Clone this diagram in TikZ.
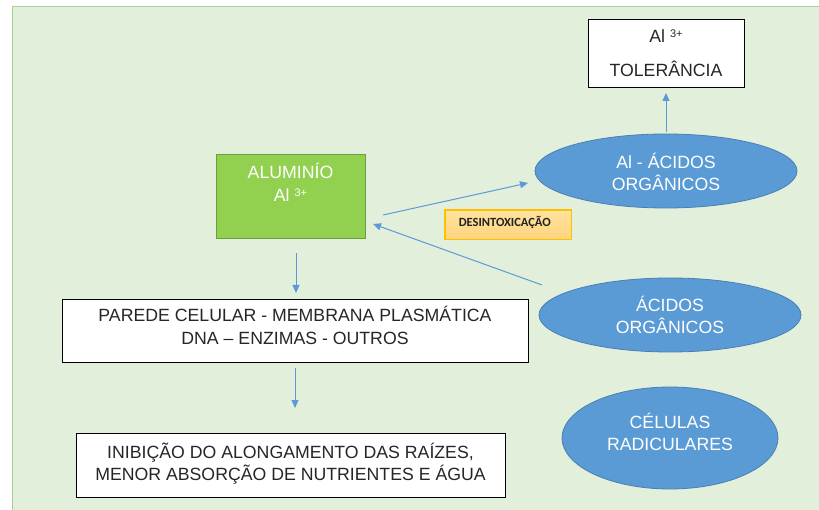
\documentclass[tikz,border=0pt]{standalone}
\usepackage{fontspec}
\setmainfont{Liberation Sans}
\newfontfamily\calibfont{Carlito}
\usetikzlibrary{arrows.meta,shapes.geometric}
\definecolor{bgfill}{HTML}{E2EFDA}
\definecolor{bgline}{HTML}{A9D08E}
\definecolor{algreen}{HTML}{92D050}
\definecolor{algreenline}{HTML}{6A9F3F}
\definecolor{elfill}{HTML}{5B9BD5}
\definecolor{elline}{HTML}{4A7FB5}
\definecolor{arrcol}{HTML}{5B9BD5}
\definecolor{destop}{HTML}{FFE3A0}
\definecolor{desbot}{HTML}{FFD47C}
\definecolor{desline}{HTML}{FFC000}
\definecolor{destext}{HTML}{222222}
\newcommand\ts[2]{\rule[-#2pt]{0pt}{\dimexpr#1pt+#2pt\relax}}
\newcommand\supthree{\raisebox{5pt}{\fontsize{11}{11}\selectfont 3+}}
\begin{document}
\begin{tikzpicture}[x=1pt,y=-1pt,
  every node/.style={font=\fontsize{17.7}{22}\selectfont, inner sep=0pt, outer sep=0pt},
  wbox/.style={rectangle, draw=black, fill=white, line width=0.9pt, align=center, text=black!85},
  gbox/.style={rectangle, draw=algreenline, fill=algreen, line width=1pt, align=center, text=white},
  ell/.style={ellipse, draw=elline, fill=elfill, line width=0.8pt, text=white, align=center},
  dbox/.style={rectangle, draw=desline, top color=destop, bottom color=desbot, line width=1.2pt,
    font=\calibfont\bfseries\fontsize{12.5}{14}\selectfont, text=destext},
  conn/.style={draw=arrcol, line width=1pt, -{Triangle[length=8pt,width=7pt]}}]
\useasboundingbox (0,0) rectangle (819,510);
\draw[bgline, fill=bgfill, line width=1.3pt] (12.7,6.5) rectangle (830,520);

\node[wbox, minimum width=156, minimum height=68] (tol) at (666,53)
  {\ts{17.5}{4.5}Al \supthree\\[12.5pt]\ts{17.5}{4.5}TOLERÂNCIA};
\node[ell, minimum width=262, minimum height=74] (aac) at (666,171)
  {\ts{22.5}{4.5}Al - ÁCIDOS\\\ts{17.5}{4.5}ORGÂNICOS};
\node[gbox, minimum width=149, minimum height=84] (alu) at (290.5,197)
  {\ts{17.5}{4.5}ALUMINÍO\\[1pt]\ts{17.5}{30.5}Al \supthree};
\node[dbox, minimum width=126.7, minimum height=29.3] (des) at (508.3,224.7)
  {\ts{10}{6.4}DESINTOXICAÇÃO\kern7pt};
\node[ell, minimum width=262, minimum height=74] (ao) at (670,315)
  {\ts{20}{4.5}ÁCIDOS\\\ts{17.5}{4.5}ORGÂNICOS};
\node[wbox, minimum width=466, minimum height=62.7] (par) at (295,331.3)
  {\ts{17.5}{4.5}PAREDE CELULAR - MEMBRANA PLASMÁTICA\\[0.5pt]\ts{17.5}{13.6}DNA – ENZIMAS - OUTROS};
\node[wbox, minimum width=429, minimum height=64] (ini) at (290.5,465)
  {\ts{17.5}{4.5}INIBIÇÃO DO ALONGAMENTO DAS RAÍZES,\\\ts{17.5}{9.2}MENOR ABSORÇÃO DE NUTRIENTES E ÁGUA};
\node[ell, minimum width=216, minimum height=102] (cel) at (670,438)
  {\ts{17.5}{4.5}CÉLULAS\\\ts{17.5}{14.5}RADICULARES};

\coordinate (a2s) at (383,215);
\coordinate (a2e) at (528,183);
\coordinate (a3s) at (542,285);
\coordinate (a3e) at (373,224);
\coordinate (a4s) at (296,253);
\coordinate (a4e) at (296,293);
\coordinate (a5s) at (295,368);
\coordinate (a5e) at (295,408);

\draw[conn, shorten <=2pt, shorten >=6pt] (aac.north) -- (tol.south);
\draw[conn] (a2s) -- (a2e);
\draw[conn] (a3s) -- (a3e);
\draw[conn] (a4s) -- (a4e);
\draw[conn] (a5s) -- (a5e);
\end{tikzpicture}
\end{document}
